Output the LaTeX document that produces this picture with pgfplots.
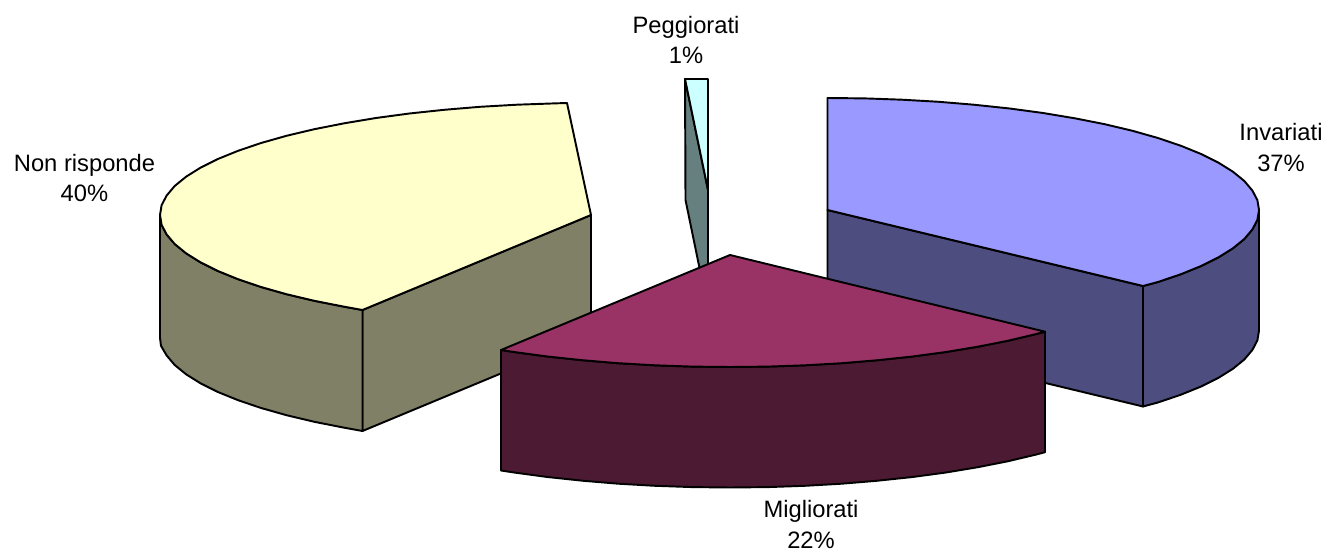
\documentclass[border=0pt]{standalone}
\usepackage{pgfplots}
\pgfplotsset{compat=1.18}
\usepackage{fontspec}
\setmainfont{Liberation Sans}
\definecolor{invtop}{HTML}{9999FF}
\definecolor{invside}{HTML}{4D4D80}
\definecolor{migtop}{HTML}{993366}
\definecolor{migside}{HTML}{4D1A33}
\definecolor{nrtop}{HTML}{FFFFCC}
\definecolor{nrside}{HTML}{808066}
\definecolor{pegtop}{HTML}{CCFFFF}
\definecolor{pegside}{HTML}{668080}
\tikzset{lab/.style={align=center,inner sep=0pt,font=\fontsize{17.8}{22.9}\selectfont}}
\begin{document}
\begin{tikzpicture}
\useasboundingbox (0,0) rectangle (997.5pt,414pt);
\begin{axis}[
  scale only axis,
  width=997.5pt,
  height=414pt,
  xmin=0,xmax=1330,
  ymin=0,ymax=552,
  y dir=reverse,
  hide axis,
  clip=false,
  every axis plot/.append style={draw=black,line width=1.45pt,line join=round,mark=none},
]
% Non risponde: cut face
\addplot[fill=nrside] coordinates {(591,215) (362.5,310) (362.5,431) (591,336)} -- cycle;
% Non risponde: wall
\addplot[fill=nrside] coordinates {
(160,215) (161.6,224.8) (166.6,234.4) (174.7,244) (186.1,253.3) (200.5,262.3) (217.9,271) (238.1,279.2)
(261.1,287) (286.5,294.2) (314.3,300.8) (344.2,306.7) (362.5,310)
(362.5,431) (344.2,427.7) (314.3,421.8) (286.5,415.2) (261.1,408) (238.1,400.2) (217.9,392) (200.5,383.3)
(186.1,374.3) (174.7,365) (166.6,355.4) (161,345.8) (160,338)
} -- cycle;
% Non risponde: top
\addplot[fill=nrtop] coordinates {
(567,103) (591,215) (362.5,310) (344.2,306.7) (314.3,300.8) (286.5,294.2) (261.1,287) (238.1,279.2)
(217.9,271) (200.5,262.3) (186.1,253.3) (174.7,244) (166.6,234.4) (161.6,224.8) (160,215)
(161.6,205.2) (166.6,195.6) (174.7,186) (186.1,176.7) (200.5,167.7) (217.9,159) (238.1,150.8)
(261.1,143) (286.5,135.8) (314.3,129.2) (344.2,123.3) (376,118) (409.4,113.5) (444.3,109.8)
(480.2,106.8) (517,104.7) (554.3,103.4)
} -- cycle;
% Peggiorati
\addplot[fill=pegside] coordinates {(685,79) (708,190) (708,265) (699.5,268) (685.5,200)} -- cycle;
\addplot[fill=pegtop] coordinates {(685,79) (708,79) (708,190)} -- cycle;
% Invariati: cut face
\addplot[fill=invside] coordinates {(827.5,210) (1143,286) (1143,406.5) (827.5,330.5)} -- cycle;
% Invariati: wall
\addplot[fill=invside] coordinates {
(1259,210) (1257.4,219.8) (1252.4,229.4) (1244.3,239) (1232.9,248.3) (1218.5,257.3) (1201.1,266)
(1180.9,274.2) (1157.9,282) (1143,286)
(1143,406.5) (1157.9,402.5) (1180.9,394.7) (1201.1,386.5) (1218.5,377.8) (1232.9,368.8) (1244.3,359.5)
(1252.4,349.9) (1257.4,340.3) (1259,330.5)
} -- cycle;
% Invariati: top
\addplot[fill=invtop] coordinates {
(827.5,210) (827.5,98) (864.7,98.4) (902,99.7) (938.8,101.8) (974.7,104.8) (1009.6,108.5) (1043,113)
(1074.8,118.3) (1104.7,124.2) (1132.5,130.8) (1157.9,138) (1180.9,145.8) (1201.1,154) (1218.5,162.7)
(1232.9,171.7) (1244.3,181) (1252.4,190.6) (1257.4,200.2) (1259,210) (1257.4,219.8) (1252.4,229.4)
(1244.3,239) (1232.9,248.3) (1218.5,257.3) (1201.1,266) (1180.9,274.2) (1157.9,282) (1143,286)
} -- cycle;
% Migliorati: wall
\addplot[fill=migside] coordinates {
(501,350) (514,352) (547.4,356.5) (582.3,360.2) (618.2,363.2) (655,365.3) (692.3,366.6) (730,367)
(767.7,366.6) (805,365.3) (841.8,363.2) (877.7,360.2) (912.6,356.5) (946,352) (977.8,346.7)
(1007.7,340.8) (1035.5,334.2) (1045,331.7)
(1045,452.2) (1035.5,454.7) (1007.7,461.3) (977.8,467.2) (946,472.5) (912.6,477) (877.7,480.7)
(841.8,483.7) (805,485.8) (767.7,487.1) (730,487.5) (692.3,487.1) (655,485.8) (618.2,483.7)
(582.3,480.7) (547.4,477) (514,472.5) (501,470.5)
} -- cycle;
% Migliorati: top
\addplot[fill=migtop] coordinates {
(730,255) (1045,331.7) (1035.5,334.2) (1007.7,340.8) (977.8,346.7) (946,352) (912.6,356.5) (877.7,360.2)
(841.8,363.2) (805,365.3) (767.7,366.6) (730,367) (692.3,366.6) (655,365.3) (618.2,363.2) (582.3,360.2)
(547.4,356.5) (514,352) (501,350)
} -- cycle;
\node[lab] at (axis cs:686,40) {Peggiorati\\1\%};
\node[lab] at (axis cs:84.5,178) {Non risponde\\40\%};
\node[lab] at (axis cs:1281,147.5) {Invariati\\37\%};
\node[lab] at (axis cs:811,524.5) {Migliorati\\22\%};
\end{axis}
\end{tikzpicture}
\end{document}
